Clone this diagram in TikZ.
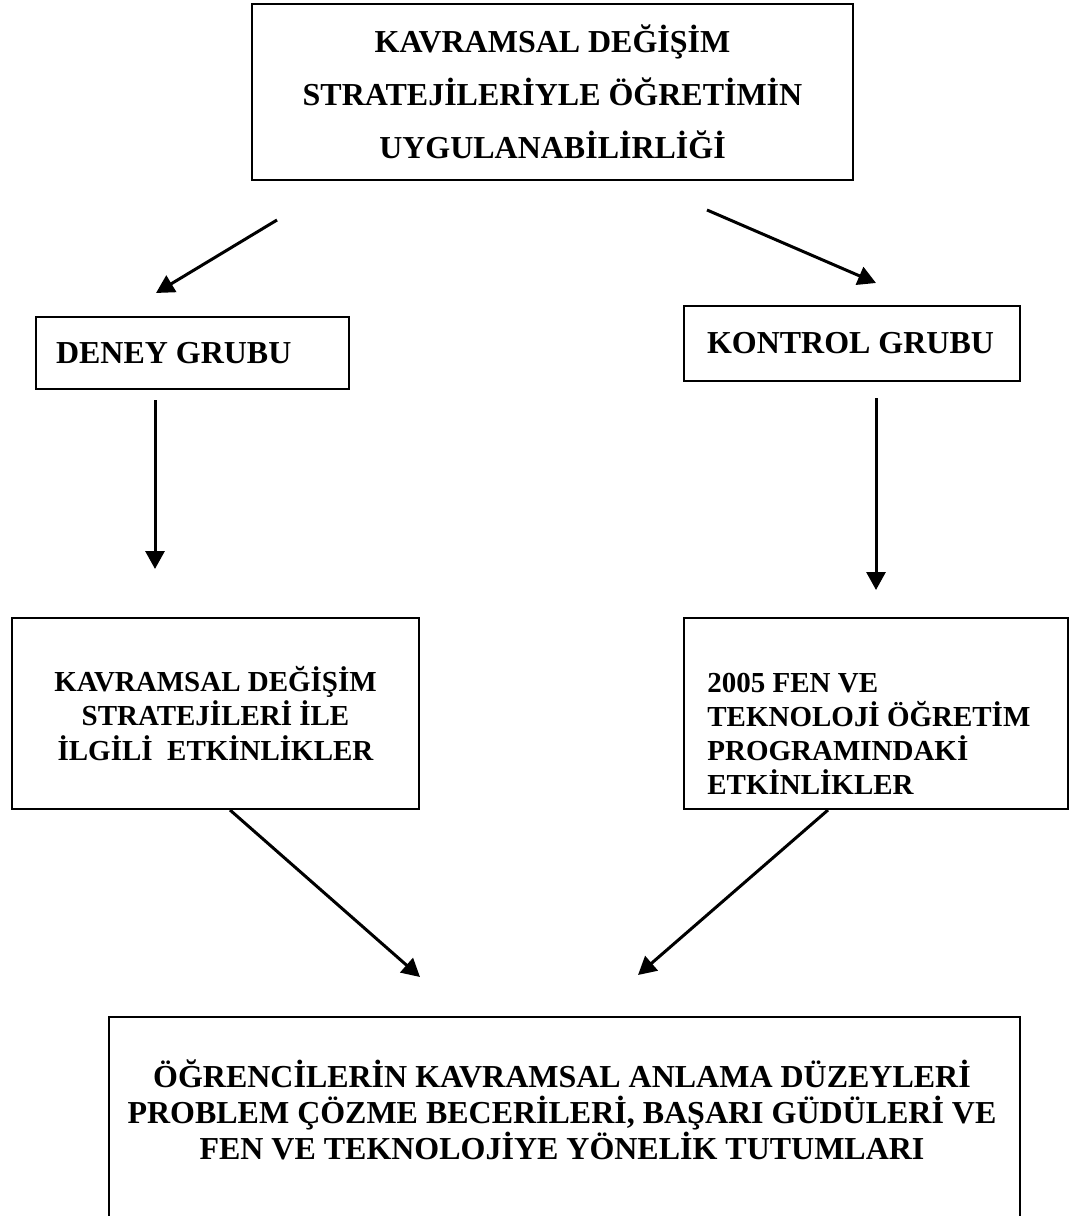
\documentclass[tikz,border=0pt]{standalone}
\usepackage{fontspec}
\setmainfont{Liberation Serif}
\usetikzlibrary{positioning,calc}
\usetikzlibrary{arrows.meta}
\tikzset{
   box/.style={draw, line width=0.04cm, rectangle, inner sep=0pt},
   bigtext/.style={font=\bfseries\fontsize{18.2}{30.2}\selectfont},
   midtext/.style={font=\bfseries\fontsize{16.5}{19.4}\selectfont},
   lowtext/.style={font=\bfseries\fontsize{18.2}{20.3}\selectfont},
   flow/.style={line width=0.06cm, -{Triangle[length=0.36cm,width=0.38cm]}}
}

\begin{document}
\begin{tikzpicture}[x=0.02cm, y=-0.02cm]
   \useasboundingbox (0,0) rectangle (1071,1216);
   \clip (0,0) rectangle (1071,1216);

   % applicability box
   \node[box, bigtext, align=center, minimum width=12.02cm,
      minimum height=3.52cm] (top) at (552.5,92)
      {KAVRAMSAL DEĞİŞİM\\STRATEJİLERİYLE ÖĞRETİMİN\\UYGULANABİLİRLİĞİ};

   % groups
   \node[box, bigtext, align=flush left, text width=5.46cm, inner xsep=0.4cm,
      minimum height=1.44cm] (deney) at (192.5,353) {DENEY GRUBU};
   \node[box, bigtext, align=flush left, text width=5.8cm, inner xsep=0.46cm,
      minimum height=1.5cm] (kontrol) at (852,343.5) {KONTROL GRUBU};

   % activities
   \node[box, midtext, align=center, minimum width=8.14cm,
      minimum height=3.82cm] (kdsetk) at (215.5,713.5)
      {KAVRAMSAL DEĞİŞİM\\STRATEJİLERİ İLE\\İLGİLİ\ \ ETKİNLİKLER};
   \node[box, minimum width=7.68cm, minimum height=3.82cm] (fenprog)
      at (876,713.5) {};
   \node[midtext, align=left, anchor=north west, inner sep=0pt] (fenprogtext)
      at ($(fenprog.north west)+(24,56)$)
      {2005 FEN VE\\TEKNOLOJİ ÖĞRETİM\\PROGRAMINDAKİ\\ETKİNLİKLER};

   % outcomes
   \node[box, minimum width=18.22cm, minimum height=5cm, anchor=north]
      (result) at (564.5,1016) {};
   \node[lowtext, align=center, inner sep=0pt] (resulttext) at (562,1110)
      {ÖĞRENCİLERİN KAVRAMSAL ANLAMA DÜZEYLERİ\\
       PROBLEM ÇÖZME BECERİLERİ, BAŞARI GÜDÜLERİ VE\\
       FEN VE TEKNOLOJİYE YÖNELİK TUTUMLARI};

   % arrow ends
   \coordinate (topl)  at (277,220);
   \coordinate (deneyin) at (156,293);
   \coordinate (topr)  at (707,210);
   \coordinate (kontrolin) at (876,283);
   \coordinate (deneyout) at (155,400);
   \coordinate (kdsetkin) at (155,569);
   \coordinate (kontrolout) at (876,398);
   \coordinate (fenprogin) at (876,590);
   \coordinate (kdsetkout) at (230,810);
   \coordinate (resultl) at (420,977);
   \coordinate (fenprogout) at (828,810);
   \coordinate (resultr) at (638,975);

   \draw[flow] (topl) -- (deneyin);
   \draw[flow] (topr) -- (kontrolin);
   \draw[flow] (deneyout) -- (kdsetkin);
   \draw[flow] (kontrolout) -- (fenprogin);
   \draw[flow] (kdsetkout) -- (resultl);
   \draw[flow] (fenprogout) -- (resultr);
\end{tikzpicture}
\end{document}
